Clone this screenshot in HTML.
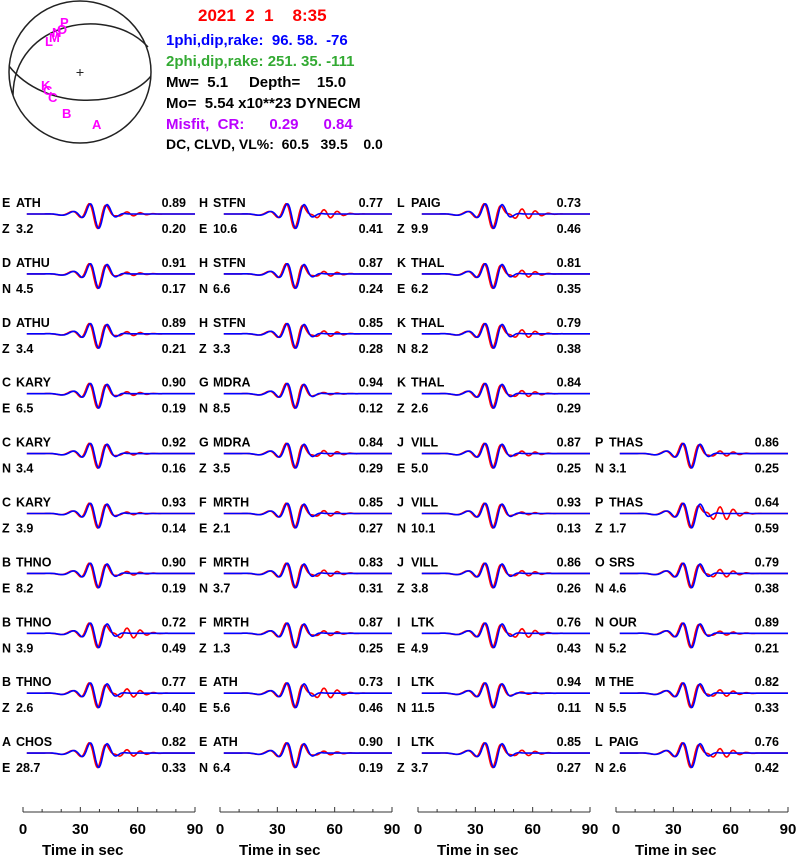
<!DOCTYPE html>
<html><head><meta charset="utf-8"><style>
html,body{margin:0;padding:0;background:#fff;}
body{width:800px;height:856px;overflow:hidden;font-family:"Liberation Sans",Arial,sans-serif;}
svg text{font-family:"Liberation Sans",Arial,sans-serif;font-weight:bold;}
</style></head><body>
<svg id="chart" width="800" height="856" viewBox="0 0 800 856" xmlns="http://www.w3.org/2000/svg">
<g fill="none" stroke="#222" stroke-width="1.5">
<circle cx="80" cy="72" r="71"/>
<path d="M13,95 C14,20 110,5 148,47"/>
<path d="M9,66 C45,112 125,108 151,76"/>
<path d="M80,69 v7 M76.5,72.5 h7" stroke-width="1"/>
</g>
<g fill="#f0f" font-size="13">
<text x="60" y="27">P</text><text x="57" y="34">O</text><text x="52" y="37">N</text><text x="49" y="42">M</text><text x="45" y="46">L</text>
<text x="41" y="90">K</text><text x="43" y="95">C</text><text x="48" y="102">C</text><text x="62" y="118">B</text><text x="92" y="129">A</text>
</g>
<g font-size="15">
<text x="198" y="21" fill="#f00" font-size="17" xml:space="preserve">2021  2  1    8:35</text>
<text x="166" y="45" fill="#00f" xml:space="preserve">1phi,dip,rake:  96. 58.  -76</text>
<text x="166" y="66" fill="#3a3" xml:space="preserve">2phi,dip,rake: 251. 35. -111</text>
<text x="166" y="87" fill="#000" xml:space="preserve">Mw=  5.1     Depth=    15.0</text>
<text x="166" y="108" fill="#000" xml:space="preserve">Mo=  5.54 x10**23 DYNECM</text>
<text x="166" y="129" fill="#b0f" xml:space="preserve">Misfit,  CR:      0.29      0.84</text>
<text x="166" y="149" fill="#000" font-size="14" xml:space="preserve">DC, CLVD, VL%:  60.5   39.5    0.0</text>
</g>
<g id="panels"></g>
<g id="axes"></g>
</svg>
<script>
const comps1=["E","D","D","C","C","C","B","B","B","A"];
const stations1=["ATH","ATHU","ATHU","KARY","KARY","KARY","THNO","THNO","THNO","CHOS"];
const chans1=["Z","N","Z","E","N","Z","E","N","Z","E"];
const dists1=["3.2","4.5","3.4","6.5","3.4","3.9","8.2","3.9","2.6","28.7"];
const ccs1=["0.89","0.91","0.89","0.90","0.92","0.93","0.90","0.72","0.77","0.82"];
const vrs1=["0.20","0.17","0.21","0.19","0.16","0.14","0.19","0.49","0.40","0.33"];
const comps2=["H","H","H","G","G","F","F","F","E","E"];
const stations2=["STFN","STFN","STFN","MDRA","MDRA","MRTH","MRTH","MRTH","ATH","ATH"];
const chans2=["E","N","Z","N","Z","E","N","Z","E","N"];
const dists2=["10.6","6.6","3.3","8.5","3.5","2.1","3.7","1.3","5.6","6.4"];
const ccs2=["0.77","0.87","0.85","0.94","0.84","0.85","0.83","0.87","0.73","0.90"];
const vrs2=["0.41","0.24","0.28","0.12","0.29","0.27","0.31","0.25","0.46","0.19"];
const comps3=["L","K","K","K","J","J","J","I","I","I"];
const stations3=["PAIG","THAL","THAL","THAL","VILL","VILL","VILL","LTK","LTK","LTK"];
const chans3=["Z","E","N","Z","E","N","Z","E","N","Z"];
const dists3=["9.9","6.2","8.2","2.6","5.0","10.1","3.8","4.9","11.5","3.7"];
const ccs3=["0.73","0.81","0.79","0.84","0.87","0.93","0.86","0.76","0.94","0.85"];
const vrs3=["0.46","0.35","0.38","0.29","0.25","0.13","0.26","0.43","0.11","0.27"];
const comps4=["P","P","O","N","M","L"];
const stations4=["THAS","THAS","SRS","OUR","THE","PAIG"];
const chans4=["N","Z","N","N","N","N"];
const dists4=["3.1","1.7","4.6","5.2","5.5","2.6"];
const ccs4=["0.86","0.64","0.79","0.89","0.82","0.76"];
const vrs4=["0.25","0.59","0.38","0.21","0.33","0.42"];
const xTicks=[0,30,60,90];

const cols=[
 {x0:23,c:comps1,s:stations1,ch:chans1,d:dists1,cc:ccs1,vr:vrs1,row0:0},
 {x0:220,c:comps2,s:stations2,ch:chans2,d:dists2,cc:ccs2,vr:vrs2,row0:0},
 {x0:418,c:comps3,s:stations3,ch:chans3,d:dists3,cc:ccs3,vr:vrs3,row0:0},
 {x0:616,c:comps4,s:stations4,ch:chans4,d:dists4,cc:ccs4,vr:vrs4,row0:4}
];
const NS="http://www.w3.org/2000/svg";
const panels=document.getElementById('panels');
function mk(tag,attrs,parent){const e=document.createElementNS(NS,tag);for(const k in attrs)e.setAttribute(k,attrs[k]);parent.appendChild(e);return e;}
function rowY(r){return 214+r*59.9;}
function xs(x0,t){return x0+t*(172/90);}
function wave(t,sh,cc,syn){
  const tc=39+sh;
  const g=Math.exp(-Math.pow((t-tc)/7.5,2));
  let v=-Math.sin((t-tc)*2*Math.PI/9.5)*g*0.25 - Math.cos((t-tc)*2*Math.PI/9.5)*g;
  const mis=1-parseFloat(cc);
  const pre=Math.sin((t-tc)*2*Math.PI/16)*Math.exp(-Math.pow((t-tc+14)/7,2))*0.15;
  const coda=syn?0:mis*1.3*Math.sin((t-tc)*2*Math.PI/7)*Math.exp(-Math.pow((t-tc-16)/10,2));
  return v+pre+coda;
}
cols.forEach((col,ci)=>{
  col.s.forEach((st,i)=>{
    const r=col.row0+i, y=rowY(r), x0=col.x0;
    const g=mk('g',{},panels);
    
    
    const lx=x0-21;
    const t1=mk('text',{x:lx,y:y-7,'font-size':'12.5'},g);t1.textContent=col.c[i];
    const t2=mk('text',{x:lx+14,y:y-7,'font-size':'12.5'},g);t2.textContent=st;
    const t3=mk('text',{x:lx,y:y+19,'font-size':'12.5'},g);t3.textContent=col.ch[i];
    const t4=mk('text',{x:lx+14,y:y+19,'font-size':'12.5'},g);t4.textContent=col.d[i];
    const t5=mk('text',{x:x0+163,y:y-7,'font-size':'12.5','text-anchor':'end'},g);t5.textContent=col.cc[i];
    const t6=mk('text',{x:x0+163,y:y+19,'font-size':'12.5','text-anchor':'end'},g);t6.textContent=col.vr[i];
    ['obs','syn'].forEach((kind,k)=>{
      let d='';
      for(let t=2;t<=90;t+=0.5){
        const v=wave(t,k?0.3:-0.3,col.cc[i],k===1);
        d+=(t===2?'M':'L')+xs(x0,t).toFixed(1)+','+(y-v*14).toFixed(1);
      }
      const p=mk('path',{d:d,fill:'none',stroke:k?'#00f':'#f00','stroke-width':'1.6'},g);
      
      
    });
  });
  const ax=mk('g',{},document.getElementById('axes'));
  
  
  const x0=col.x0, ya=812;
  mk('line',{x1:x0,x2:xs(x0,90),y1:ya,y2:ya,stroke:'#333','stroke-width':'1'},ax);
  for(let t=0;t<=90;t+=10){
    const major=t%30===0;
    mk('line',{x1:xs(x0,t),x2:xs(x0,t),y1:ya,y2:ya-(major?5:3),stroke:'#333','stroke-width':'1'},ax);
  }
  xTicks.forEach(t=>{
    const tx=mk('text',{x:xs(x0,t),y:ya+22,'font-size':'15','text-anchor':'middle'},ax);tx.textContent=t;
  });
  const ttl=mk('text',{x:x0+19,y:ya+43,'font-size':'15'},ax);
  
  
  ttl.setAttribute('xml:space','preserve');
  ttl.textContent='Time  in sec';
});
</script>
</body></html>
